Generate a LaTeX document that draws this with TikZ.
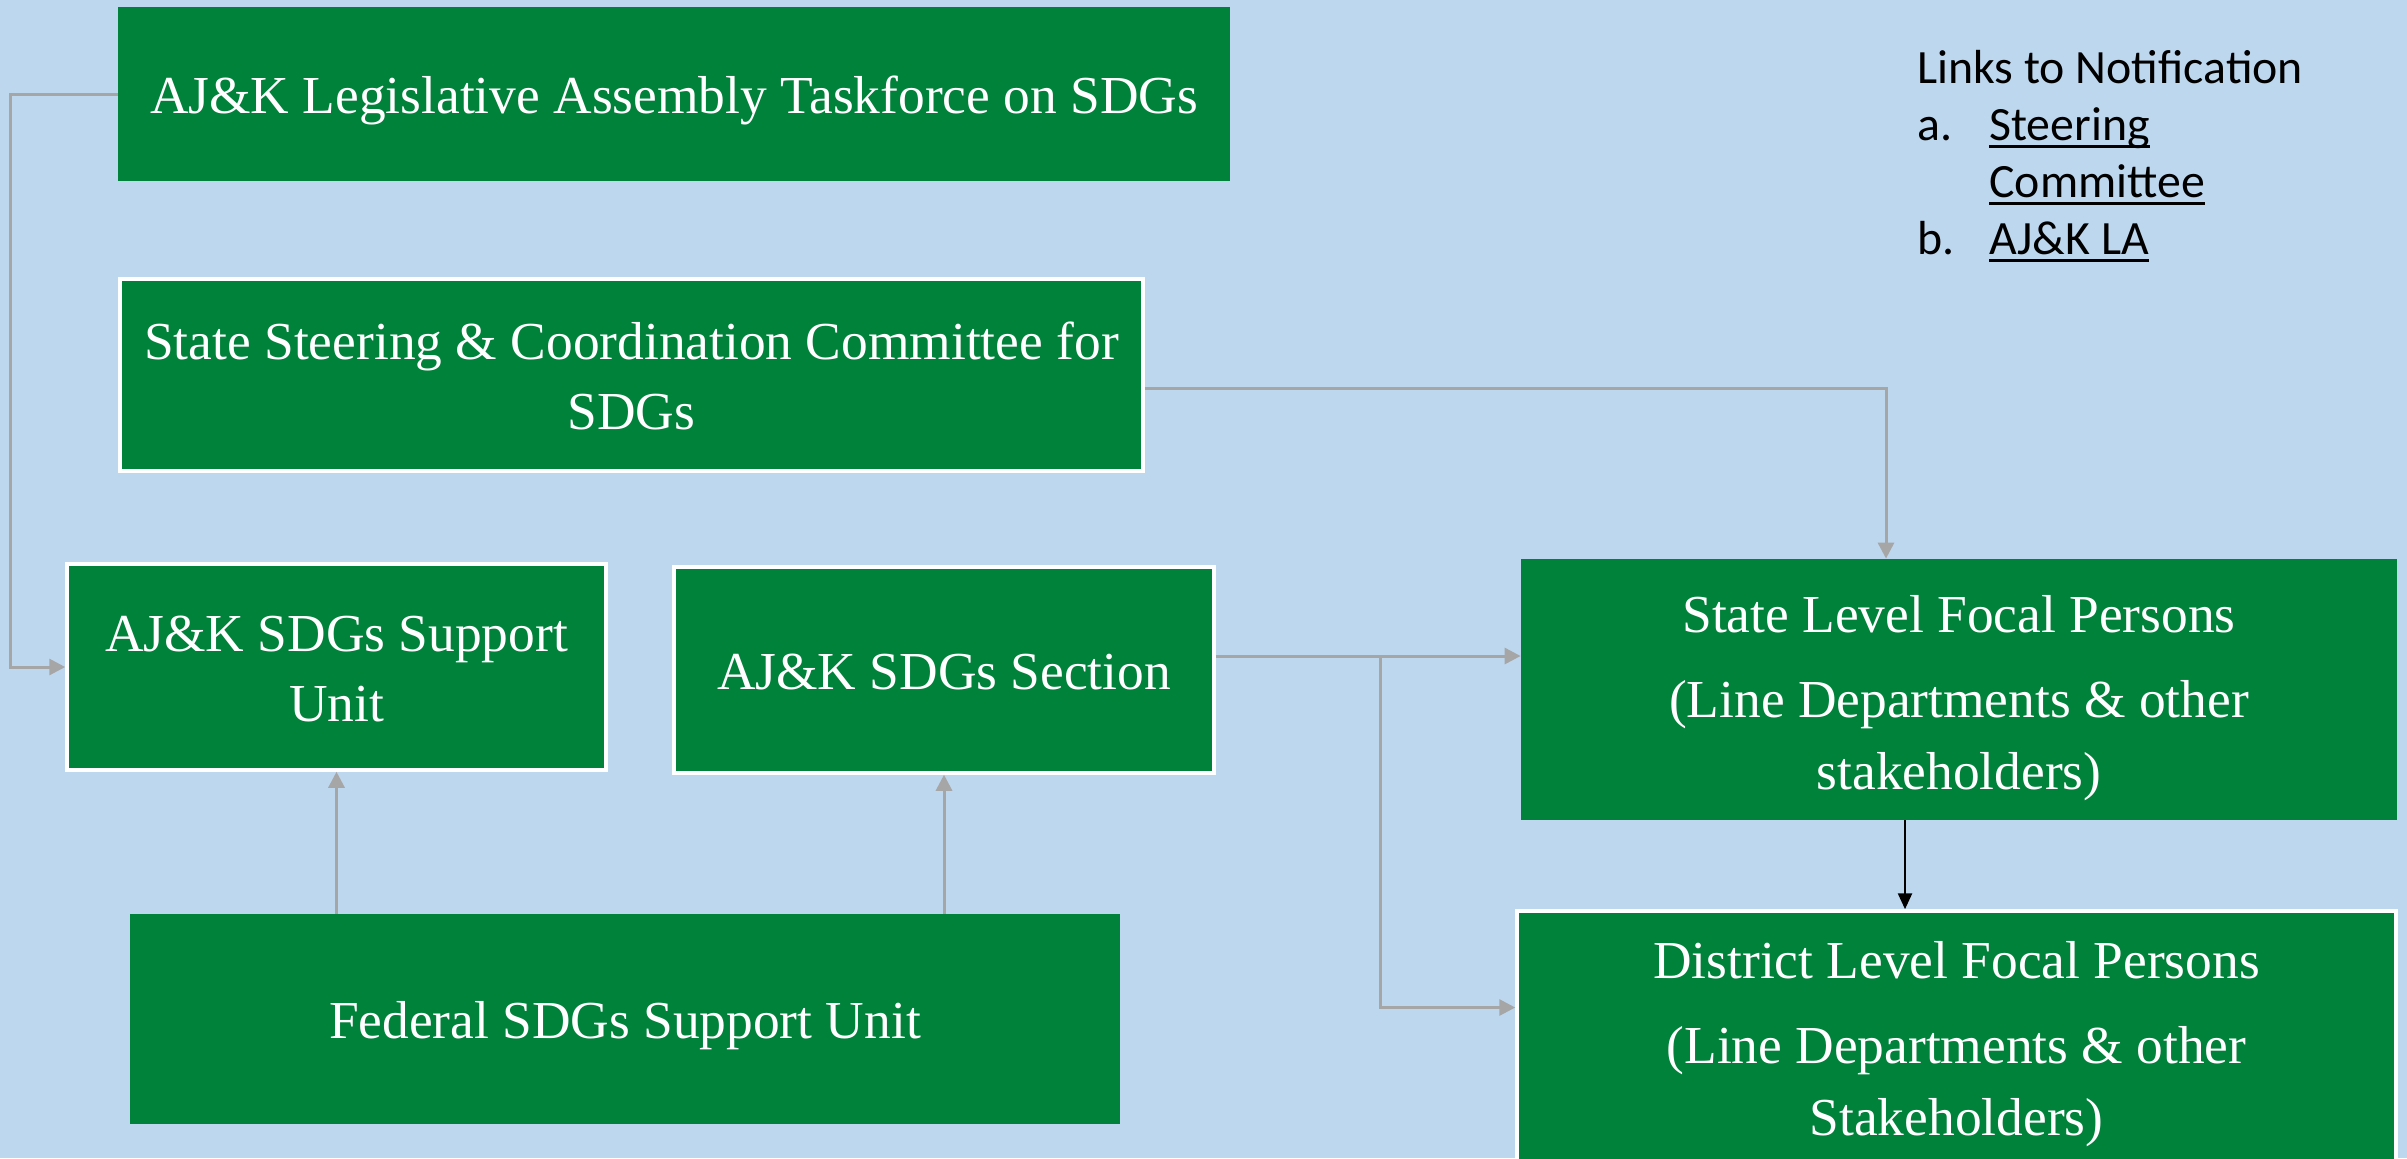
\documentclass[tikz,border=0pt]{standalone}
\usepackage{fontspec}
\setmainfont{Liberation Serif}
\newfontfamily\calibri{Carlito}
\usetikzlibrary{arrows.meta}
\definecolor{bg}{RGB}{189,215,238}
\definecolor{grn}{RGB}{0,130,59}
\definecolor{conn}{RGB}{166,166,166}
\newcommand\myul[1]{\setbox0\hbox{#1}\rlap{\rule[-4pt]{\wd0}{1.4pt}}#1}
% lowered multi-line text, reported size unchanged
\newcommand\tx[2]{\raisebox{#1}[\height][\depth]{\begin{tabular}{@{}c@{}}#2\end{tabular}}}
\begin{document}
\begin{tikzpicture}[x=0.5pt,y=-0.5pt,
  box/.style={fill=grn, text=white, inner sep=0pt, font=\fontsize{26.7}{35}\selectfont},
  tallbox/.style={box, font=\fontsize{26.7}{36}\selectfont},
  wborder/.style={draw=white, line width=1.75pt},
  gconn/.style={draw=conn, line width=1.5pt},
  garrow/.style={gconn, -{Triangle[length=8pt,width=8pt]}},
  barrow/.style={draw=black, line width=1.2pt, -{Triangle[length=8pt,width=7pt]}}]
\clip (0,0) rectangle (2407,1158);
\fill[bg] (0,0) rectangle (2407,1158);

\node[box, minimum width=556pt, minimum height=87pt] (B1) at (674,94) {\tx{-2.8pt}{AJ\&K Legislative Assembly Taskforce on SDGs}};
\node[box, wborder, minimum width=511.5pt, minimum height=96pt] (B2) at (631.5,375) {\tx{-2.8pt}{State Steering \& Coordination Committee for\\SDGs}};
\node[box, wborder, minimum width=269.5pt, minimum height=103pt] (B3) at (336.5,667) {\tx{-2.8pt}{AJ\&K SDGs Support\\Unit}};
\node[box, wborder, minimum width=270pt, minimum height=103pt] (B4) at (944,670) {\tx{-2.8pt}{AJ\&K SDGs Section}};
\node[box, minimum width=495pt, minimum height=105pt] (B5) at (625,1019) {\tx{-2.8pt}{Federal SDGs Support Unit}};
\node[tallbox, minimum width=438pt, minimum height=130.5pt] (B6) at (1959,689.5) {\tx{-3.5pt}{State Level Focal Persons\\[6.75pt](Line Departments \& other\\stakeholders)}};
\node[tallbox, wborder, minimum width=439.5pt, minimum height=127.5pt] (B7) at (1956.5,1038.5) {\tx{-2pt}{District Level Focal Persons\\[6.75pt](Line Departments \& other\\Stakeholders)}};

\node[anchor=base west, inner sep=0pt, font=\calibri\fontsize{23.9}{28.5}\selectfont] (links) at (1917,83)
  {\begin{tabular}[t]{@{}p{36pt}@{}l@{}}
   \multicolumn{2}{@{}l@{}}{Links to Notification}\\
   a. & \myul{Steering}\\
      & \myul{Committee}\\
   b. & \myul{AJ\&K LA}
   \end{tabular}};

% connectors
\coordinate (L) at (10,380);
\draw[garrow] (B1.west) -| (L) |- (B3.west);
\draw[garrow] ([yshift=-6.5pt]B2.east) -| ([xshift=-36.5pt]B6.north);
\draw[garrow] ([yshift=7pt]B4.east) -- ([yshift=16.75pt]B6.west);
\coordinate (br) at (1380,656);
\draw[garrow] (br) |- ([yshift=15.5pt]B7.west);
\draw[barrow] ([xshift=-27pt]B6.south) -- ([xshift=-27pt]B6.south |- B7.north);
\draw[garrow] (B3.south |- B5.north) -- (B3.south);
\draw[garrow] (B4.south |- B5.north) -- (B4.south);
\end{tikzpicture}
\end{document}
